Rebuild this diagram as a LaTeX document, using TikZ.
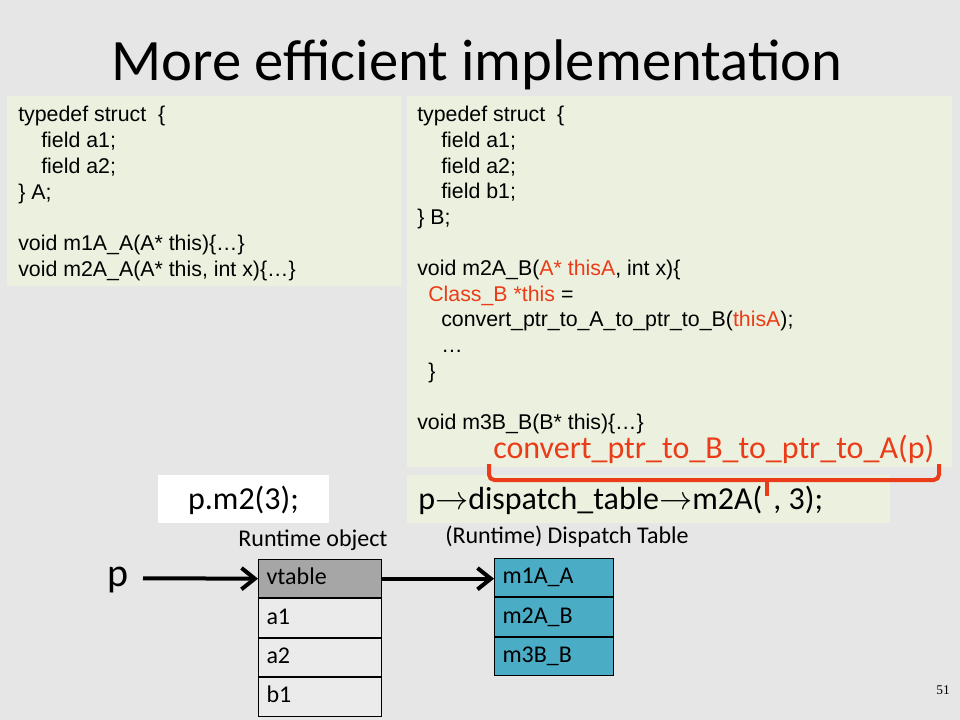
\documentclass[tikz,border=0pt]{standalone}
\usepackage{fontspec}
\setmainfont{Carlito}
\newfontfamily\codefont{Liberation Sans}
\newfontfamily\numfont{Liberation Serif}
\usetikzlibrary{arrows.meta}
\definecolor{bg}{HTML}{E6E6E6}
\definecolor{codebg}{HTML}{EBF1DE}
\definecolor{redt}{RGB}{235,60,25}
\definecolor{tealc}{HTML}{4BACC6}
\definecolor{vgray}{HTML}{A6A6A6}
\definecolor{cellbg}{HTML}{EBEBEB}
\begin{document}
\begin{tikzpicture}[x=0.75pt,y=-0.75pt,
  codeline/.style={font=\codefont\fontsize{16}{19}\selectfont, anchor=base west, inner sep=0pt},
  lbl/.style={font=\fontsize{18}{22}\selectfont, anchor=base west, inner sep=0pt},
  bigtxt/.style={font=\fontsize{24}{29}\selectfont, anchor=base west, inner sep=0pt},
  cell/.style={draw=black, line width=0.75pt, anchor=north west, minimum height=28.8pt,
    text width=80pt, inner xsep=6pt, inner ysep=0pt, align=left,
    text height=13pt, text depth=4pt, font=\fontsize{18}{22}\selectfont},
  dcell/.style={cell, text width=77.25pt, fill=tealc},
  arr/.style={line width=3pt, -{Straight Barb[length=10pt,width=16pt,line join=miter]}},
  bracestyle/.style={draw=redt, line width=3pt}
]
\useasboundingbox (0,0) rectangle (960,720);
\fill[bg] (0,0) rectangle (960,720);

% title
\node[font=\fontsize{44}{53}\selectfont, anchor=base, inner sep=0pt] (title) at (477,81) {More efficient implementation};

% left code box
\fill[codebg] (7,96) rectangle (401,286);
\node[codeline] (la0) at (18,122) {typedef struct\ \ \{};
\node[codeline] (la1) at (41,147.8) {field a1;};
\node[codeline] (la2) at (41,173.6) {field a2;};
\node[codeline] (la3) at (18,199.4) {\} A;};
\node[codeline] (la5) at (18,251) {void m1A\_A(A* this)\{…\}};
\node[codeline] (la6) at (18,276.8) {void m2A\_A(A* this, int x)\{…\}};

% right code box
\fill[codebg] (407,96) rectangle (952,467);
\node[codeline] (rb0) at (417,122) {typedef struct\ \ \{};
\node[codeline] (rb1) at (441,147.6) {field a1;};
\node[codeline] (rb2) at (441,173.2) {field a2;};
\node[codeline] (rb3) at (441,198.8) {field b1;};
\node[codeline] (rb4) at (417,224.4) {\} B;};
\node[codeline] (rb6) at (417,275.6) {void m2A\_B(\textcolor{redt}{A* thisA}, int x)\{};
\node[codeline] (rb7) at (428,301.2) {\textcolor{redt}{Class\_B *this} =};
\node[codeline] (rb8) at (441,326.8) {convert\_ptr\_to\_A\_to\_ptr\_to\_B(\textcolor{redt}{thisA});};
\node[codeline] (rb9) at (441,352.4) {…};
\node[codeline] (rb10) at (428,378) {\}};
\node[codeline] (rb12) at (417,429.2) {void m3B\_B(B* this)\{…\}};

% call boxes
\fill[white] (158,475) rectangle (329,523);
\node[font=\fontsize{24}{29}\selectfont, anchor=base, inner sep=0pt] (call) at (243.5,509) {p.m2(3);};
\fill[codebg] (407,475) rectangle (890,523);
\node[bigtxt] (disp) at (418,509) {p$\rightarrow$dispatch\_table$\rightarrow$m2A(};
\coordinate (tick) at ([xshift=3.5pt]disp.base east |- 0,480);
\node[bigtxt, anchor=base west] (disp2) at ([xshift=8pt]disp.base east) {, 3);};

% red conversion text and brace
\node[bigtxt, text=redt] (conv) at (493,458) {convert\_ptr\_to\_B\_to\_ptr\_to\_A(p)};
\path[bracestyle, rounded corners=4pt] (489,464) -- (489,480) -- (939,480) -- (939,464);
\path[bracestyle] (tick) -- ++(0,16);

% labels
\node[font=\fontsize{18}{22}\selectfont, anchor=base, inner sep=0pt] (rtobj) at (313,546) {Runtime object};
\node[lbl] (rtdisp) at (445,543) {(Runtime) Dispatch Table};

% runtime object
\node[cell, fill=vgray] (vt) at (258,559) {vtable};
\node[cell, fill=cellbg] (ca1) at (vt.south west) {a1};
\node[cell, fill=cellbg] (ca2) at (ca1.south west) {a2};
\node[cell, fill=cellbg] (cb1) at (ca2.south west) {b1};

% dispatch table
\node[dcell] (m1) at (494,558) {m1A\_A};
\node[dcell] (m2) at (m1.south west) {m2A\_B};
\node[dcell] (m3) at (m2.south west) {m3B\_B};

% pointer p
\node[font=\fontsize{30}{36}\selectfont, anchor=base, inner sep=0pt] (p) at (118,586) {p};
\coordinate (ps) at (143,578.25);
\draw[arr] (ps) -- (vt.west);
\draw[arr] (vt.east) -- (vt.east -| m1.west);

% page number
\node[font=\numfont\fontsize{10}{12}\selectfont, anchor=base, inner sep=0pt] (pg) at (943,694) {51};
\end{tikzpicture}
\end{document}
